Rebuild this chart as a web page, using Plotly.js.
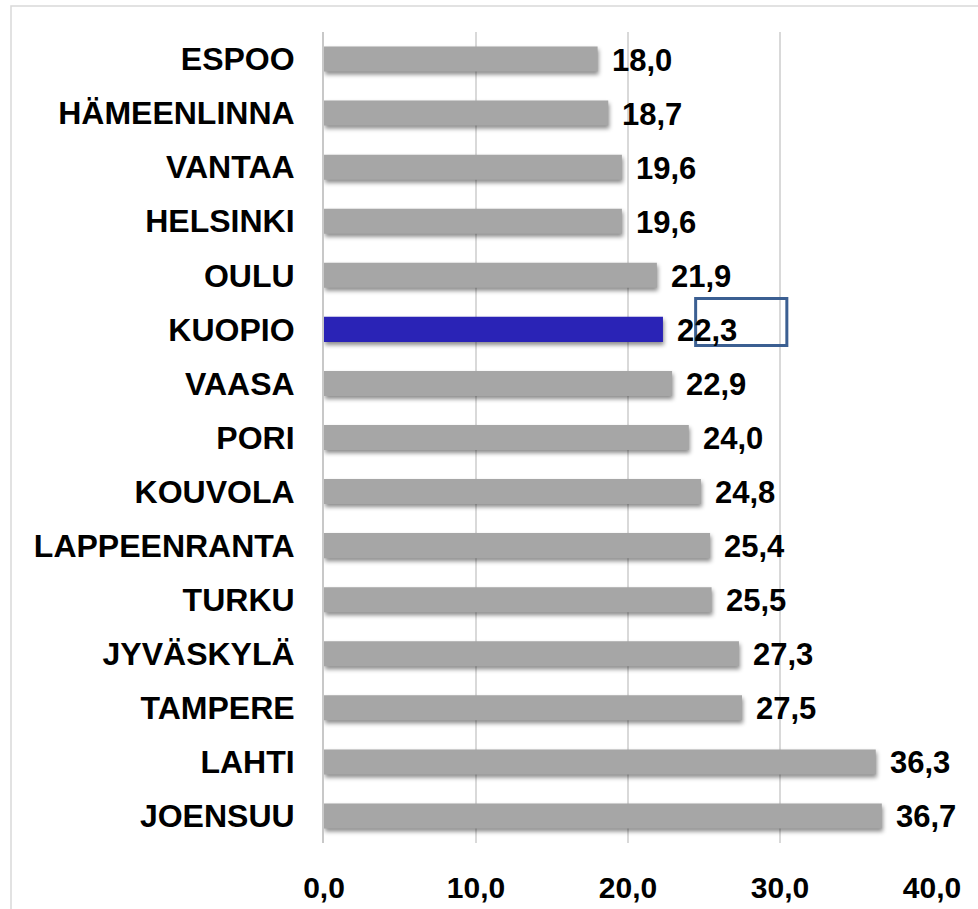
<!DOCTYPE html>
<html>
<head>
<meta charset="utf-8">
<script src="https://cdn.plot.ly/plotly-3.0.1.min.js"></script>
<style>
  html, body { margin: 0; padding: 0; background: #fff; }
  #chart { width: 978px; height: 909px; }
  .bars .point path { filter: drop-shadow(1px 3px 2px rgba(0,0,0,0.45)); }
</style>
</head>
<body>
<div id="chart"></div>
<script>
// Data
const cities = ["ESPOO","HÄMEENLINNA","VANTAA","HELSINKI","OULU","KUOPIO","VAASA","PORI","KOUVOLA","LAPPEENRANTA","TURKU","JYVÄSKYLÄ","TAMPERE","LAHTI","JOENSUU"];
const values = [18.0, 18.7, 19.6, 19.6, 21.9, 22.3, 22.9, 24.0, 24.8, 25.4, 25.5, 27.3, 27.5, 36.3, 36.7];
const highlightCity = "KUOPIO";
const xTicks = [0, 10, 20, 30, 40];

const grayColor = "#A6A6A6";
const blueColor = "#2A23B6";
const fontFamily = "Liberation Sans, Arial, sans-serif";

const colors = cities.map(c => c === highlightCity ? blueColor : grayColor);
const labels = values.map(v => v.toFixed(1).replace('.', ','));

const trace = {
  type: 'bar',
  orientation: 'h',
  x: values,
  y: cities,
  marker: { color: colors, line: { width: 0 } },
  hoverinfo: 'none'
};

const annotations = cities.map((c, i) => ({
  x: values[i], y: c, xref: 'x', yref: 'y',
  text: labels[i], showarrow: false,
  xanchor: 'left', yanchor: 'middle', xshift: 12, yshift: -1,
  font: { family: fontFamily, size: 31, color: '#000', weight: 'bold' }
}));

const L = 324, R = 46, T = 32, B = 66;
const pw = 978 - L - R, ph = 909 - T - B;

const hi = cities.indexOf(highlightCity);

const layout = {
  width: 978, height: 909,
  margin: { l: L, r: R, t: T, b: B, pad: 0 },
  paper_bgcolor: '#fff', plot_bgcolor: '#fff',
  separators: ', ',
  showlegend: false,
  bargap: 0.537,
  font: { family: fontFamily, color: '#000' },
  xaxis: {
    range: [0, 40],
    tickvals: xTicks,
    tickformat: '.1f',
    showgrid: true, gridcolor: '#D9D9D9', gridwidth: 1.5,
    zeroline: false, showline: false,
    ticks: 'outside', ticklen: 18, tickcolor: 'rgba(0,0,0,0)',
    tickfont: { family: fontFamily, size: 30, color: '#000', weight: 'bold' },
    fixedrange: true
  },
  yaxis: {
    type: 'category',
    categoryorder: 'array', categoryarray: cities,
    autorange: 'reversed',
    showgrid: false, zeroline: false,
    showline: true, linecolor: '#C8C8C8', linewidth: 2,
    ticks: 'outside', ticklen: 21, tickcolor: 'rgba(0,0,0,0)',
    tickfont: { family: fontFamily, size: 32, color: '#000', weight: 'bold' },
    fixedrange: true
  },
  annotations: annotations,
  shapes: [
    // outer chart border
    { type: 'rect', xref: 'paper', yref: 'paper',
      x0: (11 - L) / pw, x1: (990 - L) / pw,
      y0: (909 - B - 915) / ph, y1: (909 - B - 6) / ph,
      line: { color: '#D9D9D9', width: 1.5 }, fillcolor: 'rgba(0,0,0,0)', layer: 'below' },
    // highlight box near the Kuopio label
    { type: 'rect', xref: 'x', yref: 'y',
      x0: 24.45, x1: 30.45, y0: hi - 0.57, y1: hi + 0.30,
      line: { color: '#3B5F92', width: 3 }, fillcolor: 'rgba(0,0,0,0)', layer: 'above' }
  ]
};

Plotly.newPlot('chart', [trace], layout, { displayModeBar: false, staticPlot: true });
</script>
</body>
</html>
